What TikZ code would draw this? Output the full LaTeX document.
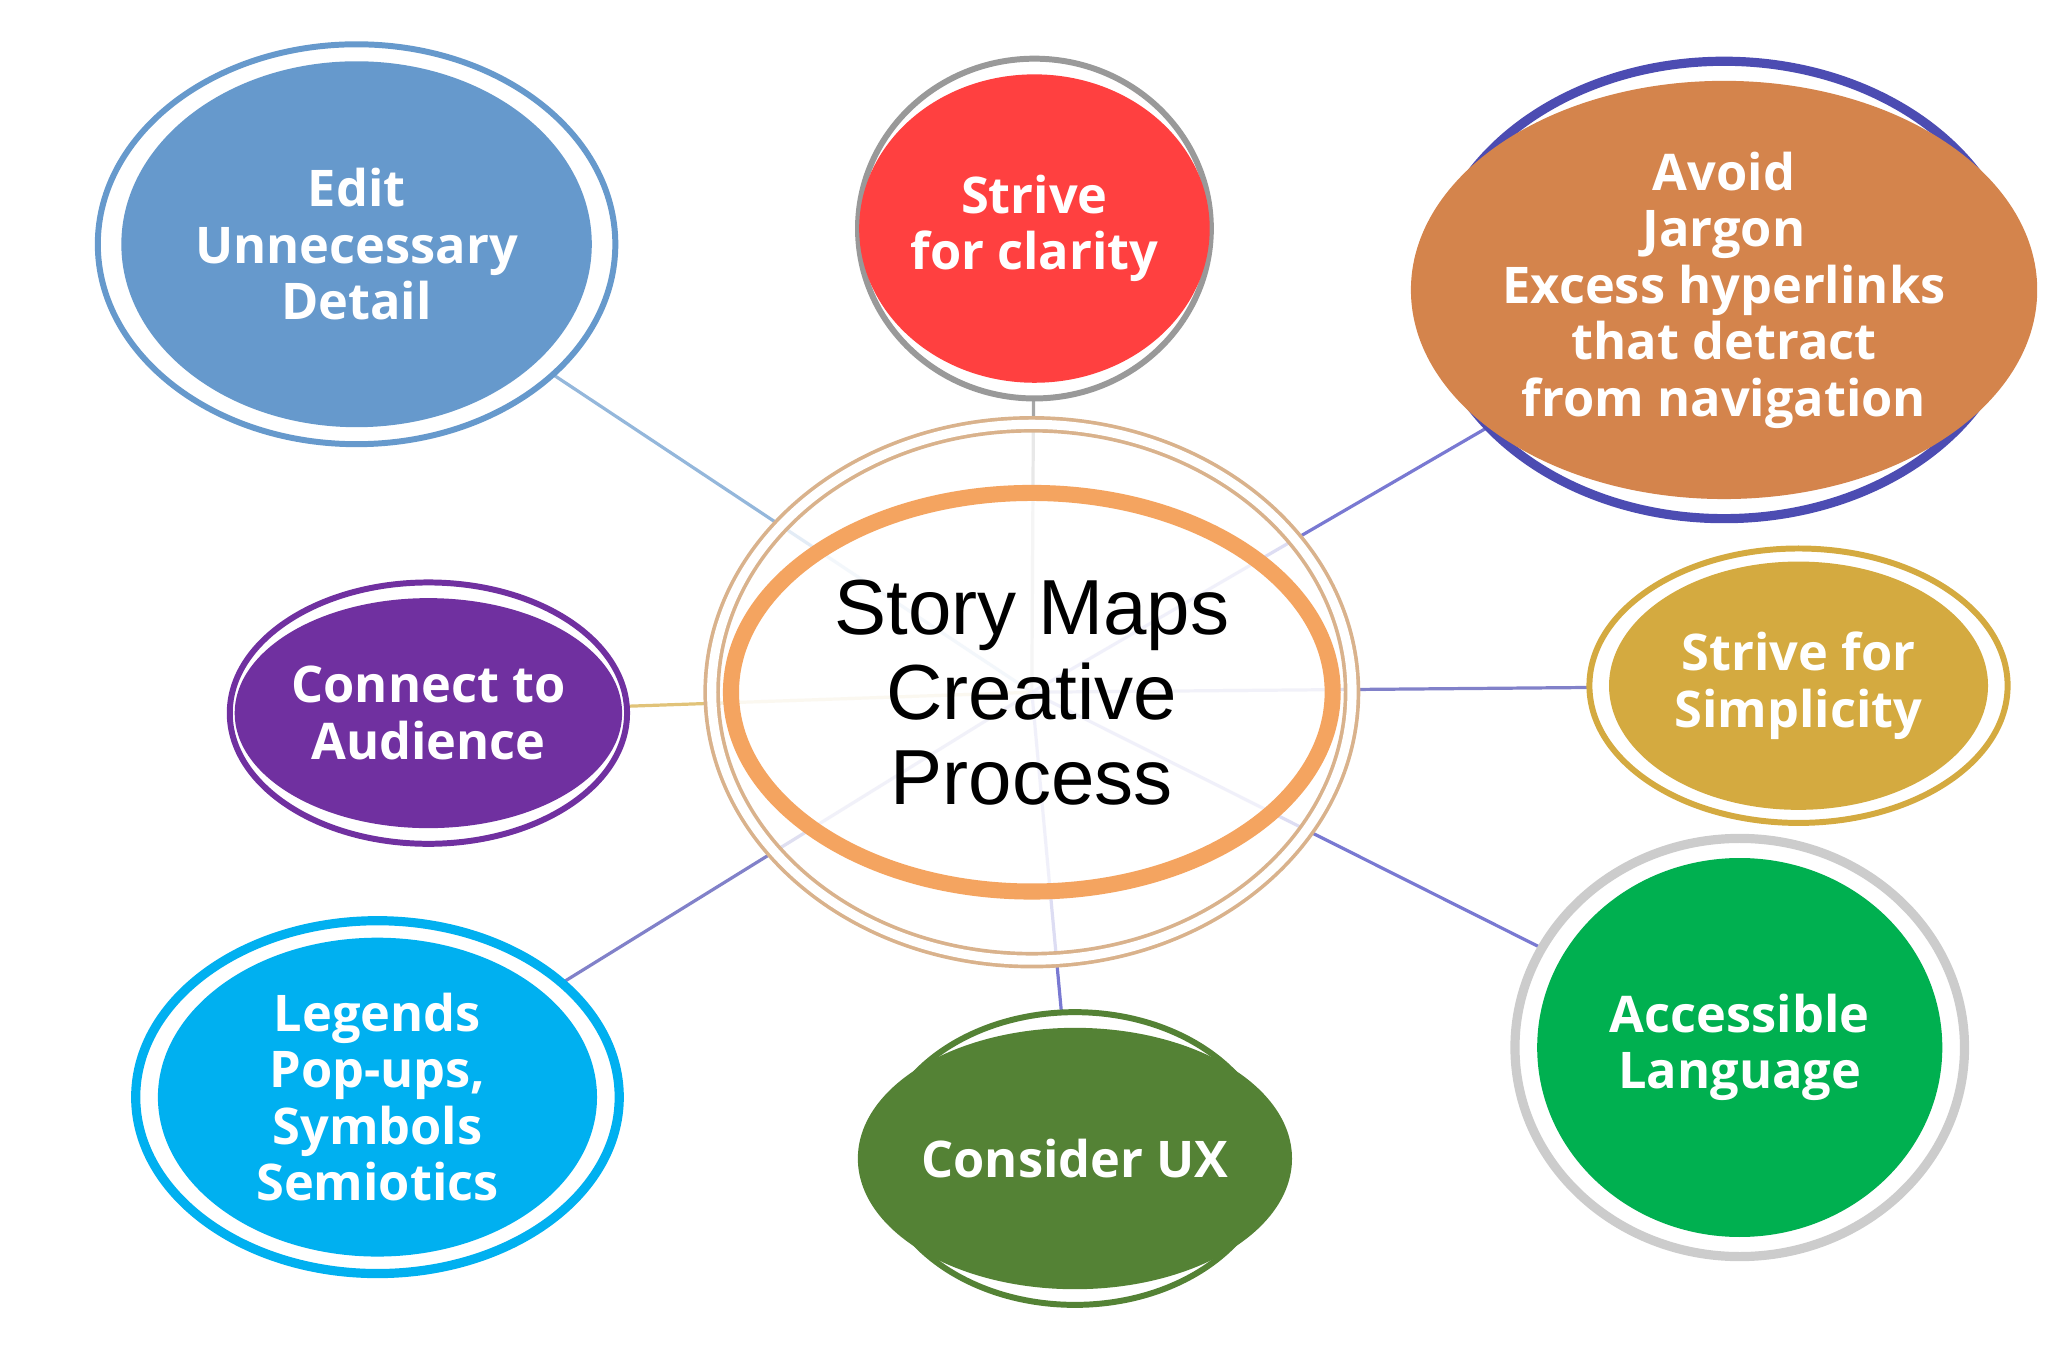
\documentclass[tikz,border=0pt]{standalone}
\usepackage{fontspec}
\setmainfont{Open Sans}
\newfontfamily\arialfont{Liberation Sans}
\usetikzlibrary{shapes.geometric}
\tikzset{
  topic/.style={ellipse, inner sep=0pt, text=white, align=center, font=\bfseries\fontsize{11}{12.3}\selectfont},
  ring/.style={ellipse, inner sep=0pt, line width=1.3pt, fill=white},
  link/.style={line width=0.7pt, opacity=0.7},
}
\definecolor{editblue}{HTML}{6699CC}
\definecolor{clarityred}{HTML}{FF4040}
\definecolor{jargonorange}{HTML}{D4844C}
\definecolor{audpurple}{HTML}{7030A0}
\definecolor{simpgold}{HTML}{D4AA40}
\definecolor{legcyan}{HTML}{00B0F0}
\definecolor{uxgreen}{HTML}{548235}
\definecolor{accgreen}{HTML}{00B050}
\definecolor{ringorange}{HTML}{F4A460}
\begin{document}
\begin{tikzpicture}[x=0.01cm,y=-0.01cm]
    \useasboundingbox (0,0) rectangle (1568,1046);
    % connectors
    \coordinate (c) at (790,530);
    \draw[link, editblue] (c) -- (273,187);
    \draw[link, gray] (c) -- (792,175);
    \draw[link, blue!50!gray] (c) -- (1320,222);
    \draw[link, simpgold] (c) -- (328,546);
    \draw[link, blue!40!gray] (c) -- (1377,525);
    \draw[link, blue!40!gray] (c) -- (289,840);
    \draw[link, blue!50!gray] (c) -- (823,887);
    \draw[link, blue!50!gray] (c) -- (1332,802);
    % outer rings
    \node[ring, draw=editblue, minimum width=3.96cm, minimum height=3.06cm] at (273,187) {};
    \node[ring, draw=gray!80, minimum width=2.7cm, minimum height=2.6cm] at (792,175) {};
    \node[ring, draw=blue!40!gray, line width=2pt, minimum width=4.5cm, minimum height=3.5cm] at (1320,222) {};
    \node[ring, draw=audpurple, minimum width=3.04cm, minimum height=2cm] at (328,546) {};
    \node[ring, draw=simpgold, minimum width=3.2cm, minimum height=2.1cm] at (1377,525) {};
    \node[ring, draw=legcyan, line width=2pt, minimum width=3.7cm, minimum height=2.7cm] at (289,840) {};
    \node[ring, draw=uxgreen, minimum width=3cm, minimum height=2.24cm] at (823,887) {};
    \node[ring, draw=gray!40, line width=2pt, minimum width=3.44cm, minimum height=3.2cm] at (1332,802) {};
    % topics
    \node[topic, fill=editblue, minimum width=3.6cm, minimum height=2.8cm] (edit) at (273,187) {Edit\\Unnecessary\\Detail};
    \node[topic, fill=clarityred, minimum width=2.46cm, minimum height=2.36cm] (clarity) at (792,175) {Strive\\for clarity};
    \node[topic, fill=jargonorange, minimum width=4.1cm, minimum height=3.2cm] (jargon) at (1320,222) {Avoid\\Jargon\\Excess hyperlinks\\that detract\\from navigation};
    \node[topic, fill=audpurple, minimum width=2.76cm, minimum height=1.76cm] (audience) at (328,546) {Connect to\\Audience};
    \node[topic, fill=simpgold, minimum width=2.9cm, minimum height=1.9cm] (simplicity) at (1377,525) {Strive for\\Simplicity};
    \node[topic, fill=legcyan, minimum width=3.36cm, minimum height=2.44cm] (legends) at (289,840) {Legends\\Pop-ups,\\Symbols\\Semiotics};
    \node[topic, fill=uxgreen, minimum width=2.74cm, minimum height=2cm] (ux) at (823,887) {Consider UX};
    \node[topic, fill=accgreen, minimum width=3.1cm, minimum height=2.9cm] (access) at (1332,802) {Accessible\\Language};
    % centre
    \node[ellipse, draw=brown!60, double=white, double distance=2pt, line width=0.8pt, fill=white, fill opacity=0.75, minimum width=4.9cm, minimum height=4.1cm] at (c) {};
    \node[ellipse, draw=ringorange, line width=3.5pt, fill=white, fill opacity=0.6, text opacity=1, align=center, font=\arialfont\fontsize{17}{18.5}\selectfont, minimum width=3.6cm, minimum height=3.05cm] (story) at (c) {Story Maps\\Creative\\Process};
\end{tikzpicture}
\end{document}
